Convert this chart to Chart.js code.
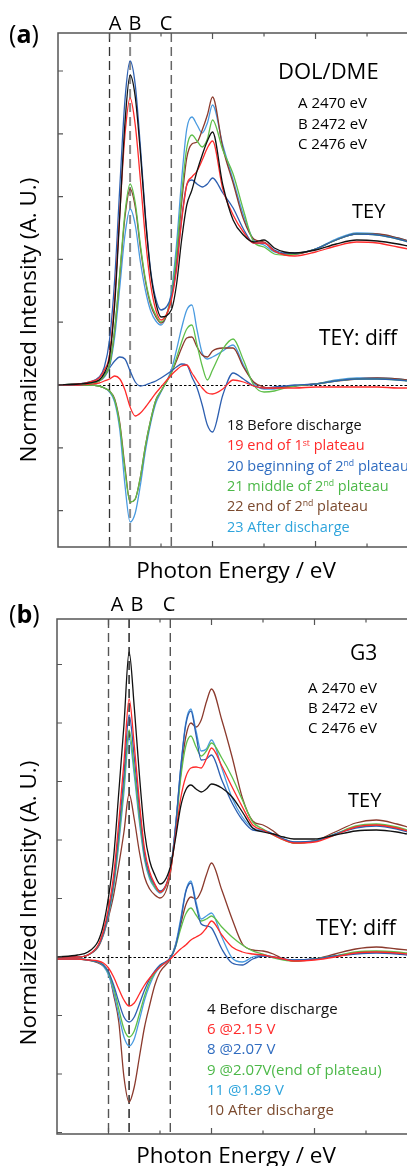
<!DOCTYPE html>
<html>
<head>
<meta charset="utf-8">
<script src="https://cdn.jsdelivr.net/npm/chart.js@4.4.1/dist/chart.umd.min.js"></script>
<style>
  body { margin: 0; background: #fff; width: 407px; height: 1166px; overflow: hidden; position: relative; font-family: 'Open Sans', sans-serif; }
  canvas { position: absolute; left: 0; }
  .t { position: absolute; white-space: nowrap; line-height: 1; color: #000; transform: translateY(-50%); }
  .c { transform: translate(-50%, -50%); }
  .rot { transform: translate(-50%, -50%) rotate(-90deg); }
  sup { font-size: 60%; vertical-align: 0; position: relative; top: -0.55em; }
</style>
</head>
<body>
<canvas id="chartA" width="407" height="585" style="top:0"></canvas>
<canvas id="chartB" width="407" height="581" style="top:585px"></canvas>

<!-- panel (a) texts -->
<div class="t" style="left:9px;top:33px;font-size:25px">(<b>a</b>)</div>
<div class="t c" style="left:115px;top:23px;font-size:20px">A</div>
<div class="t c" style="left:135px;top:23px;font-size:20px">B</div>
<div class="t c" style="left:166px;top:23px;font-size:20px">C</div>
<div class="t" style="left:278px;top:70px;font-size:22px">DOL/DME</div>
<div class="t" style="left:298px;top:102px;font-size:15px">A 2470 eV</div>
<div class="t" style="left:298px;top:123px;font-size:15px">B 2472 eV</div>
<div class="t" style="left:298px;top:143px;font-size:15px">C 2476 eV</div>
<div class="t" style="left:352px;top:211px;font-size:20px">TEY</div>
<div class="t" style="left:319px;top:337px;font-size:21px">TEY: diff</div>
<div class="t c" style="left:236px;top:570px;font-size:22.5px">Photon Energy / eV</div>
<div class="t rot" style="left:28px;top:320px;font-size:22.5px">Normalized Intensity (A. U.)</div>
<div id="legendA"></div>

<!-- panel (b) texts -->
<div class="t" style="left:9px;top:613px;font-size:25px">(<b>b</b>)</div>
<div class="t c" style="left:117px;top:604px;font-size:20px">A</div>
<div class="t c" style="left:137px;top:604px;font-size:20px">B</div>
<div class="t c" style="left:169px;top:604px;font-size:20px">C</div>
<div class="t" style="left:350px;top:652px;font-size:21px">G3</div>
<div class="t" style="left:308px;top:687px;font-size:15px">A 2470 eV</div>
<div class="t" style="left:308px;top:707px;font-size:15px">B 2472 eV</div>
<div class="t" style="left:308px;top:727px;font-size:15px">C 2476 eV</div>
<div class="t" style="left:348px;top:800px;font-size:20px">TEY</div>
<div class="t" style="left:316px;top:927px;font-size:21.5px">TEY: diff</div>
<div class="t c" style="left:236px;top:1155px;font-size:22.5px">Photon Energy / eV</div>
<div class="t rot" style="left:28px;top:903px;font-size:22.5px">Normalized Intensity (A. U.)</div>
<div id="legendB"></div>

<script>
// ---- DATA ----
// photon energy (eV)
const energies = [2465, 2467, 2468, 2469, 2469.5, 2470, 2470.5, 2471, 2471.5, 2472, 2472.5, 2473, 2473.5, 2474, 2474.5, 2475,
  2476, 2476.5, 2477, 2477.5, 2478, 2478.5, 2479, 2479.5, 2480, 2481, 2482, 2483, 2484, 2485, 2486, 2487, 2488, 2490, 2492, 2494, 2496, 2498, 2499];
const markerEnergies = [2470, 2472, 2476]; // A, B, C
const xTicks = [2470, 2475, 2480, 2485, 2490, 2495];

// (a) DOL/DME - TEY
const teyA18 = [0, 1, 2, 5, 12, 28, 80, 170, 262, 310, 288, 232, 165, 112, 82, 68, 75, 100, 145, 180, 195, 214, 230, 244, 253, 200, 165, 150, 143, 145, 137, 133, 132, 135, 141, 145, 144, 141, 139];
const teyA19 = [0, 1, 3, 7, 15, 30, 86, 172, 250, 287, 260, 205, 145, 100, 75, 65, 85, 115, 164, 200, 208, 214, 225, 237, 244, 196, 170, 153, 142, 142, 134, 130, 129, 133, 139, 143, 142, 138, 136];
const teyA20 = [0, 1, 3, 8, 18, 45, 105, 198, 285, 324, 300, 238, 168, 114, 86, 75, 89, 118, 166, 200, 205, 201, 198, 201, 207, 192, 177, 156, 142, 142, 135, 132, 132, 136, 145, 151, 150, 146, 143];
const teyA21 = [0, 1, 2, 4, 9, 20, 55, 112, 172, 201, 182, 140, 105, 82, 70, 63, 90, 130, 190, 237, 250, 244, 238, 246, 265, 235, 211, 175, 143, 138, 131, 130, 131, 136, 145, 151, 150, 146, 143];
const teyA22 = [0, 1, 2, 4, 9, 20, 55, 110, 168, 196, 178, 137, 103, 80, 68, 62, 87, 124, 182, 227, 241, 243, 255, 270, 288, 237, 202, 166, 146, 143, 134, 131, 131, 136, 145, 151, 151, 147, 144];
const teyA23 = [0, 1, 2, 4, 8, 18, 48, 98, 150, 176, 160, 123, 94, 74, 64, 60, 93, 140, 205, 256, 268, 260, 252, 262, 280, 240, 205, 170, 145, 140, 133, 131, 131, 136, 146, 152, 151, 147, 144];
// (a) TEY: diff
const diffA19 = [0, 0, 1, 2, 4, 6, 9, 6, -5, -22, -31, -28, -22, -15, -8, -2, 10, 15, 19, 20, 12, 4, -3, -8, -9, -4, 5, 3, -1, -3, -3, -3, -3, -2, -2, -2, -2, -3, -3];
const diffA20 = [0, 0, 2, 5, 11, 17, 24, 28, 26, 14, 3, -1, 0, 2, 4, 7, 14, 18, 21, 20, 8, -3, -20, -40, -47, -10, 12, 6, -1, -3, -2, -1, 0, 1, 4, 6, 6, 5, 4];
const diffA21 = [0, 0, 0, -1, -3, -6, -15, -40, -85, -117, -114, -92, -60, -35, -15, -6, 12, 27, 43, 56, 60, 40, 19, 5, 15, 36, 46, 25, 0, -7, -6, -3, -1, 1, 4, 6, 6, 5, 4];
const diffA22 = [0, 0, 0, -1, -3, -6, -14, -38, -82, -117, -114, -92, -60, -35, -15, -6, 12, 24, 37, 47, 48, 38, 30, 28, 34, 37, 37, 18, 3, -2, -3, -2, -1, 1, 4, 6, 7, 6, 5];
const diffA23 = [0, 0, 0, -1, -3, -7, -17, -45, -100, -137, -128, -100, -65, -38, -18, -7, 15, 35, 57, 75, 80, 55, 32, 26, 28, 34, 40, 20, 2, -4, -4, -2, -1, 1, 5, 7, 7, 6, 5];

// (b) G3 - TEY
const teyB4 = [0, 2, 5, 16, 32, 60, 100, 165, 232, 305, 250, 182, 125, 96, 82, 73, 90, 118, 150, 167, 172, 168, 165, 168, 173, 169, 160, 145, 129, 125, 123, 120, 118, 118, 122, 126, 127, 125, 123];
const teyB6 = [0, 0, 2, 12, 26, 49, 82, 135, 195, 258, 212, 155, 108, 85, 73, 65, 86, 121, 158, 180, 189, 190, 189, 198, 209, 191, 170, 150, 132, 127, 122, 117, 114, 115, 122, 130, 132, 129, 126];
const teyB8 = [0, 0, 2, 11, 24, 45, 75, 125, 182, 242, 200, 148, 103, 82, 72, 66, 87, 128, 188, 232, 246, 222, 197, 198, 202, 177, 154, 137, 127, 126, 123, 118, 115, 116, 123, 129, 131, 128, 125];
const teyB9 = [0, 0, 2, 11, 24, 44, 72, 118, 172, 227, 188, 140, 100, 80, 70, 65, 86, 125, 178, 211, 221, 210, 201, 206, 214, 199, 180, 157, 135, 128, 122, 117, 114, 116, 123, 131, 133, 130, 127];
const teyB11 = [0, 0, 2, 11, 23, 42, 70, 113, 165, 219, 182, 135, 97, 78, 69, 64, 87, 130, 188, 234, 248, 226, 206, 208, 217, 189, 159, 140, 129, 127, 123, 118, 115, 116, 123, 130, 132, 129, 126];
const teyB10 = [0, 0, 2, 10, 22, 40, 62, 92, 125, 163, 138, 105, 80, 68, 62, 59, 83, 130, 182, 220, 234, 230, 237, 255, 268, 237, 200, 159, 136, 132, 126, 118, 114, 116, 125, 134, 137, 133, 130];
// (b) TEY: diff
const diffB6 = [-2, -2, -3, -4, -6, -11, -20, -32, -43, -49, -46, -37, -28, -21, -15, -10, -2, 3, 8, 12, 17, 20, 23, 29, 36, 22, 10, 5, 3, 2, 0, -2, -4, -3, 0, 4, 5, 4, 3];
const diffB8 = [-2, -2, -3, -5, -8, -15, -28, -45, -60, -65, -60, -47, -33, -22, -14, -8, -1, 10, 35, 65, 74, 52, 33, 31, 29, 8, -6, -8, -2, 1, 0, -2, -3, -2, 1, 3, 4, 3, 2];
const diffB9 = [-2, -2, -3, -5, -8, -16, -31, -52, -72, -80, -74, -57, -39, -25, -16, -9, -1, 10, 28, 43, 49, 42, 36, 38, 41, 30, 20, 12, 6, 3, -1, -3, -4, -2, 1, 5, 6, 5, 4];
const diffB11 = [-2, -2, -3, -5, -9, -18, -35, -58, -80, -89, -82, -63, -43, -28, -17, -10, -1, 12, 38, 66, 76, 55, 38, 41, 44, 20, -1, -5, 0, 2, 0, -2, -3, -2, 1, 4, 5, 4, 3];
const diffB10 = [-2, -2, -3, -6, -9, -15, -38, -65, -120, -145, -130, -100, -70, -48, -28, -15, -2, 12, 32, 52, 60, 58, 66, 82, 94, 67, 38, 13, 7, 6, 3, -2, -4, -2, 3, 8, 10, 8, 7];

const legendA = ['18 Before discharge', '19 end of 1<sup>st</sup> plateau', '20 beginning of 2<sup>nd</sup> plateau',
  '21 middle of 2<sup>nd</sup> plateau', '22 end of 2<sup>nd</sup> plateau', '23 After discharge'];
const legendB = ['4 Before discharge', '6 @2.15 V', '8 @2.07 V', '9 @2.07V(end of plateau)', '11 @1.89 V', '10 After discharge'];

// colours, same order as the legends
const black = '#111111', red = '#ff2b2b', blue = '#2d5fb0', green = '#5fbf4a', brown = '#8b3a2d', cyan = '#4a9be0';
const colorsA = [black, red, blue, green, brown, cyan];
const colorsB = [black, red, blue, green, cyan, brown];
const textColor = { [black]: '#111111', [red]: '#ff2b2b', [blue]: '#2f6cc0', [green]: '#4cb848', [brown]: '#7b4a2e', [cyan]: '#2ea4dc' };

// ---- helpers ----
const pts = arr => energies.map((e, i) => ({ x: e, y: arr[i] }));
const line = (arr, color) => ({ data: pts(arr), borderColor: color, borderWidth: 1.3, pointRadius: 0, fill: false, cubicInterpolationMode: 'monotone' });

// axes, inward ticks, A/B/C dashed markers and dotted zero line
const framePlugin = {
  id: 'frame',
  beforeDatasetsDraw(chart, args, opts) {
    const { ctx, chartArea: a, scales: { x, y } } = chart;
    ctx.save();
    ctx.setLineDash([9, 5]);
    markerEnergies.forEach((e, i) => {
      const px = x.getPixelForValue(e);
      ctx.strokeStyle = opts.markerColors[i];
      ctx.lineWidth = opts.markerWidths[i];
      ctx.beginPath(); ctx.moveTo(px, a.top); ctx.lineTo(px, a.bottom); ctx.stroke();
    });
    // zero line of the diff spectra
    const y0 = Math.round(y.getPixelForValue(0)) + 0.5;
    ctx.setLineDash([2.5, 2]);
    ctx.strokeStyle = '#000'; ctx.lineWidth = 1;
    ctx.beginPath(); ctx.moveTo(a.left, y0); ctx.lineTo(a.right, y0); ctx.stroke();
    ctx.restore();
  },
  afterDatasetsDraw(chart, args, opts) {
    const { ctx, chartArea: a, scales: { x, y } } = chart;
    ctx.save();
    ctx.strokeStyle = '#555'; ctx.lineWidth = 1.5;
    ctx.beginPath();
    ctx.moveTo(a.right + 2, a.top); ctx.lineTo(a.left, a.top); ctx.lineTo(a.left, a.bottom); ctx.lineTo(a.right + 2, a.bottom);
    ctx.stroke();
    ctx.lineWidth = 1.2;
    ctx.beginPath();
    xTicks.forEach(e => {
      const px = x.getPixelForValue(e);
      const len = e % 10 === 0 ? 6 : 3.5;
      ctx.moveTo(px, a.top); ctx.lineTo(px, a.top + len);
      ctx.moveTo(px, a.bottom); ctx.lineTo(px, a.bottom - len);
    });
    for (let k = Math.ceil(y.min / opts.yStep); k * opts.yStep <= y.max; k++) {
      const py = y.getPixelForValue(k * opts.yStep);
      ctx.moveTo(a.left, py); ctx.lineTo(a.left + 5, py);
    }
    ctx.stroke();
    ctx.restore();
  }
};

function makeChart(id, tey, diff, colors, pad, yMin, yMax, yStep, xMax, markerColors, markerWidths) {
  const datasets = [];
  tey.forEach((arr, i) => datasets.push(line(arr, colors[i])));
  diff.forEach((arr, i) => datasets.push(line(arr, colors[i + 1])));
  return new Chart(document.getElementById(id), {
    type: 'line',
    data: { datasets },
    plugins: [framePlugin],
    options: {
      responsive: false,
      animation: false,
      layout: { padding: pad },
      scales: {
        x: { type: 'linear', display: false, min: 2465, max: xMax },
        y: { display: false, min: yMin, max: yMax },
      },
      plugins: {
        legend: { display: false },
        tooltip: { enabled: false },
        frame: { yStep, markerColors, markerWidths },
      },
    },
  });
}

makeChart('chartA', [teyA18, teyA19, teyA20, teyA21, teyA22, teyA23], [diffA19, diffA20, diffA21, diffA22, diffA23], colorsA,
  { left: 58, top: 33, right: 0, bottom: 38 }, -162, 352, 62.8, 2498.88, ['#333', '#888', '#666'], [1.3, 2, 1.5]);
makeChart('chartB', [teyB4, teyB6, teyB8, teyB9, teyB11, teyB10], [diffB6, diffB8, diffB9, diffB11, diffB10], colorsB,
  { left: 57, top: 34, right: 0, bottom: 32 }, -177, 338, 58.5, 2498.98, ['#555', '#333', '#555'], [1.4, 1.6, 1.4]);

// legends as text
function addLegend(id, labels, colors, left, top0, step, size) {
  const box = document.getElementById(id);
  labels.forEach((lab, i) => {
    const d = document.createElement('div');
    d.className = 't';
    d.style.cssText = `left:${left}px;top:${top0 + i * step}px;font-size:${size}px;color:${textColor[colors[i]]}`;
    d.innerHTML = lab;
    box.appendChild(d);
  });
}
addLegend('legendA', legendA, colorsA, 227, 425, 20.3, 14.5);
addLegend('legendB', legendB, colorsB, 207, 1008, 20.2, 15);
</script>
</body>
</html>
